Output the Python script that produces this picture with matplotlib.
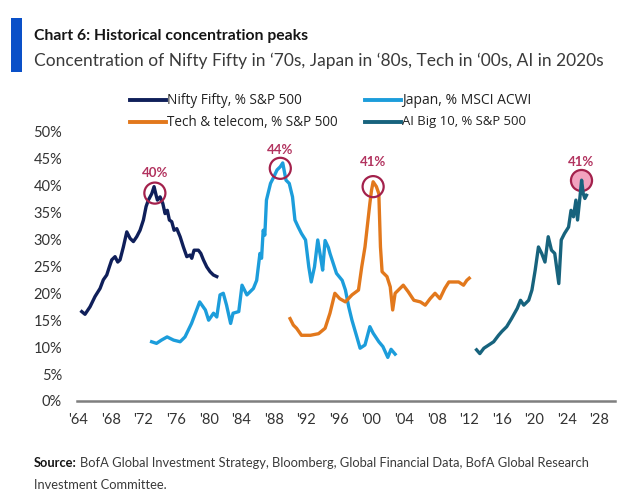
import matplotlib
matplotlib.use("Agg")
import matplotlib.pyplot as plt
from matplotlib.lines import Line2D
from matplotlib.patches import Rectangle

W, H = 640, 500

# ---------------- data ----------------
nifty_years = [1964.42, 1964.82, 1965.44, 1966.05, 1966.67, 1967.07, 1967.49, 1967.81, 1968.10, 1968.51,
               1968.84, 1969.12, 1969.53, 1969.95, 1970.35, 1970.76, 1971.17, 1971.58, 1971.99, 1972.32,
               1972.60, 1973.02, 1973.30, 1973.55, 1973.71, 1974.04, 1974.37, 1974.65, 1974.93, 1975.18,
               1975.47, 1975.76, 1976.09, 1976.50, 1976.90, 1977.32, 1977.72, 1977.93, 1978.21, 1978.74,
               1979.04, 1979.36, 1979.77, 1980.18, 1980.58, 1981.00]
nifty_vals = [16.6, 16.1, 17.5, 19.4, 20.9, 22.5, 23.4, 24.9, 26.2, 26.8,
              25.8, 26.2, 28.6, 31.4, 30.2, 29.6, 30.5, 31.7, 33.6, 36.1,
              37.3, 38.5, 39.8, 38.2, 37.3, 37.9, 36.7, 34.8, 35.4, 33.6,
              33.3, 31.7, 32.0, 30.5, 28.6, 26.8, 27.1, 26.5, 28.0, 28.0,
              27.4, 26.2, 24.9, 24.0, 23.4, 23.1]

japan_years = [1973.0, 1973.6, 1974.2, 1974.9, 1975.7, 1976.5, 1977.1, 1977.9, 1978.9, 1979.6,
               1980.0, 1980.6, 1981.0, 1981.4, 1981.8, 1982.2, 1982.7, 1983.0, 1983.7, 1984.1,
               1984.7, 1985.5, 1985.9, 1986.3, 1986.5, 1986.7, 1986.9, 1987.1, 1987.6, 1988.0,
               1988.4, 1988.8, 1989.1, 1989.5, 1989.9, 1990.3, 1990.6, 1991.0, 1991.4, 1991.9,
               1992.3, 1992.6, 1993.0, 1993.4, 1993.8, 1994.0, 1994.3, 1994.7, 1994.9, 1995.7,
               1996.4, 1996.8, 1997.2, 1997.6, 1998.2, 1998.6, 1999.2, 1999.8, 2000.2, 2000.9,
               2001.4, 2002.0, 2002.4, 2002.9]
japan_vals = [11.0, 10.7, 11.3, 11.9, 11.3, 11.0, 11.9, 14.4, 18.4, 16.9,
              15.0, 16.3, 15.6, 19.7, 20.0, 17.8, 14.4, 16.3, 16.6, 21.5,
              19.7, 20.9, 22.4, 27.4, 26.5, 31.7, 30.8, 37.3, 40.4, 41.6,
              42.9, 43.5, 44.2, 41.0, 40.4, 37.9, 33.6, 32.3, 31.1, 29.9,
              24.9, 22.1, 24.9, 29.9, 26.2, 24.3, 29.8, 28.5, 27.4, 23.7,
              22.4, 20.6, 17.5, 15.0, 11.9, 9.8, 10.4, 13.8, 12.6, 11.0,
              10.1, 8.1, 9.6, 8.7]

tech_years = [1990.0, 1990.4, 1990.8, 1991.4, 1992.5, 1993.5, 1994.3, 1994.9, 1995.5, 1996.1,
              1996.8, 1997.6, 1998.4, 1998.8, 1999.2, 1999.8, 2000.0, 2000.2, 2000.6, 2000.9,
              2001.1, 2001.3, 2001.9, 2002.3, 2002.6, 2002.9, 2003.3, 2003.9, 2004.5, 2005.2,
              2006.0, 2006.6, 2007.2, 2007.8, 2008.4, 2009.0, 2009.5, 2010.1, 2010.7, 2011.3,
              2011.7, 2012.0]
tech_vals = [15.3, 14.1, 13.5, 12.2, 12.2, 12.5, 13.5, 16.3, 20.0, 19.0,
             18.4, 19.7, 20.6, 24.9, 28.6, 36.7, 39.1, 40.7, 39.8, 38.5,
             28.6, 24.0, 23.1, 21.2, 16.9, 20.0, 20.6, 21.5, 20.3, 18.7,
             18.4, 17.8, 19.0, 20.0, 19.0, 20.9, 22.1, 22.1, 22.1, 21.5,
             22.4, 22.8]

ai_years = [2012.9, 2013.3, 2013.8, 2014.4, 2015.0, 2015.6, 2016.0, 2016.6, 2017.2, 2017.9,
            2018.3, 2018.7, 2019.3, 2019.7, 2020.1, 2020.5, 2020.9, 2021.3, 2021.7, 2022.1,
            2022.5, 2023.0, 2023.3, 2023.7, 2024.2, 2024.5, 2024.8, 2025.1, 2025.3, 2025.6,
            2025.8, 2026.0, 2026.2, 2026.4]
ai_vals = [9.5, 8.8, 9.8, 10.4, 11.0, 12.2, 12.9, 13.8, 15.3, 17.2,
           18.7, 17.8, 18.7, 20.6, 24.3, 28.6, 27.4, 25.8, 30.5, 28.0,
           27.4, 21.8, 29.9, 31.1, 32.3, 35.4, 34.2, 37.3, 33.6, 37.9,
           41.0, 38.5, 37.6, 38.2]

series_names = ["Nifty Fifty, % S&P 500", "Japan, % MSCI ACWI",
                "Tech & telecom, % S&P 500", "AI Big 10, % S&P 500"]

peak_years = [1973.4, 1988.8, 2000.2, 2025.7]
peak_vals = [38.6, 43.2, 39.8, 41.0]
peak_labels = ["40%", "44%", "41%", "41%"]
peak_label_vals = [42.3, 46.6, 44.4, 44.4]
peak_filled = [False, False, False, True]

x_ticks = list(range(1964, 2029, 4))
x_tick_labels = ["'%02d" % (y % 100) for y in x_ticks]
y_ticks = list(range(0, 51, 5))
y_tick_labels = ["%d%%" % v for v in y_ticks]

# ---------------- style ----------------
c_nifty = "#0f1f5a"
c_japan = "#1c9ddb"
c_tech = "#e2781c"
c_ai = "#17637d"
c_peak = "#a3214c"
c_label = "#b2335f"
FONT = "Lato"

fig = plt.figure(figsize=(W / 100, H / 100), dpi=100)
fig.patch.set_facecolor("white")
renderer = fig.canvas.get_renderer()


def fx(px):
    return px / W


def fy(py):
    return 1 - py / H


def fit_text(x, y, s, width, size0=12, **kw):
    t = fig.text(fx(x), fy(y), s, fontsize=size0, ha="left", va="center", **kw)
    w = t.get_window_extent(renderer).width
    t.set_fontsize(size0 * width / w)
    return t


# header
fig.add_artist(Rectangle((fx(11), fy(72)), fx(22) - fx(11), fy(18) - fy(72),
                         transform=fig.transFigure, color="#0a50c8", lw=0))
fit_text(34, 36, "Chart 6: Historical concentration peaks", 272,
         family=FONT, fontweight="bold", color="#151515")
fit_text(34, 61, "Concentration of Nifty Fifty in \u201870s, Japan in \u201880s, Tech in \u201800s, AI in 2020s",
         565, family=FONT, color="#3a3a3a")

# axes
left, right, bottom, top = 76.7, 615, 401, 131.7
ax = fig.add_axes([fx(left), fy(bottom), fx(right) - fx(left), (bottom - top) / H])
ax.set_xlim(1963.8, 2029.9)
ax.set_ylim(0, 50)
for sp in ["top", "right", "left"]:
    ax.spines[sp].set_visible(False)
ax.spines["bottom"].set_color("#7f7f7f")
ax.spines["bottom"].set_linewidth(1.8)
ax.set_xticks(x_ticks)
ax.set_xticklabels(x_tick_labels)
ax.set_yticks(y_ticks)
ax.set_yticklabels(y_tick_labels)
ax.tick_params(axis="both", length=0, labelsize=10.5, labelcolor="#333333")
ax.tick_params(axis="x", pad=8.5)
ax.tick_params(axis="y", pad=10.5)
for lab in ax.get_xticklabels() + ax.get_yticklabels():
    lab.set_family(FONT)

lw = 2.4
ax.plot(nifty_years, nifty_vals, color=c_nifty, lw=lw, solid_joinstyle="round", zorder=3)
ax.plot(japan_years, japan_vals, color=c_japan, lw=lw, solid_joinstyle="round", zorder=3)
ax.plot(tech_years, tech_vals, color=c_tech, lw=lw, solid_joinstyle="round", zorder=3)
ax.plot(ai_years, ai_vals, color=c_ai, lw=lw, solid_joinstyle="round", zorder=3)

for yr, v, lab, lv, filled in zip(peak_years, peak_vals, peak_labels, peak_label_vals, peak_filled):
    ax.scatter([yr], [v], s=230, facecolors="#f2a3bf" if filled else "none",
               edgecolors=c_peak, linewidths=1.6, zorder=2 if filled else 5, clip_on=False)
    ax.text(yr, lv, lab, color=c_label, fontsize=9.5, fontweight="bold",
            ha="center", va="center", family=FONT)

# legend (manual)
legend_colors = [c_nifty, c_japan, c_tech, c_ai]
legend_pos = [(130, 100), (365, 100), (130, 122), (365, 122)]
legend_widths = [135, 129, 172, 124]
for name, col, (lx, ly), lwid in zip(series_names, legend_colors, legend_pos, legend_widths):
    fig.add_artist(Line2D([fx(lx), fx(lx + 36)], [fy(ly), fy(ly)], color=col, lw=2.8,
                          transform=fig.transFigure))
    fit_text(lx + 37, ly, name, lwid, size0=9, family="Open Sans", color="#222222")

# source
src_b = fig.text(fx(34), fy(463), "Source:", fontsize=10, fontweight="bold",
                 family=FONT, ha="left", va="center", color="#151515")
src_r = fig.text(fx(34), fy(463),
                 "BofA Global Investment Strategy, Bloomberg, Global Financial Data, BofA Global Research",
                 fontsize=10, family=FONT, ha="left", va="center", color="#3a3a3a")
wb = src_b.get_window_extent(renderer).width
wr = src_r.get_window_extent(renderer).width
scale = (592 - 34) / (wb + 3 + wr)
src_b.set_fontsize(10 * scale)
src_r.set_fontsize(10 * scale)
wb = src_b.get_window_extent(renderer).width
src_r.set_x(fx(34 + wb + 3 * scale))
fig.text(fx(34), fy(485), "Investment Committee.", fontsize=10 * scale, family=FONT,
         ha="left", va="center", color="#3a3a3a")

fig.savefig("out.png", dpi=100, facecolor="white")
